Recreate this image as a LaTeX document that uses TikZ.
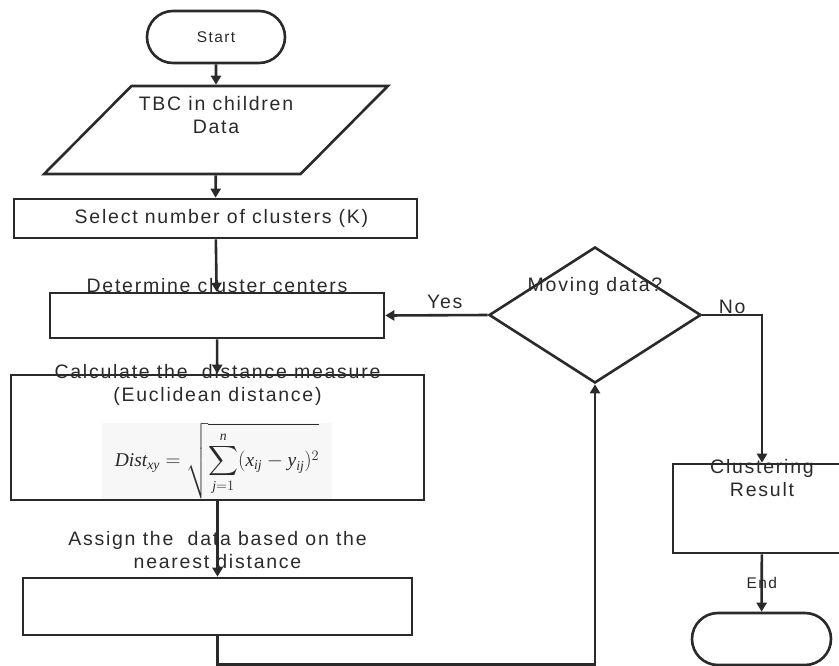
\documentclass[tikz,border=0pt]{standalone}
\usepackage{fontspec}
\setmainfont{Liberation Sans}
\newfontfamily\chartfont[LetterSpace=9]{Liberation Sans}
\newfontfamily\formulafont{Liberation Serif}
\usepackage{amsmath}
\usepackage{tikz}
\usetikzlibrary{shapes, arrows.meta, positioning}
\usetikzlibrary{shapes.geometric, shapes.misc}
\definecolor{ink}{HTML}{2a2a2a}
\newcommand{\fvar}[1]{\text{\formulafont\itshape #1}}

\begin{document}
\begin{tikzpicture}[x=1pt, y=-1pt,
		line width=2.6pt, draw=ink, text=ink,
		font=\chartfont\fontsize{19.5}{23}\selectfont,
		box/.style={draw=ink, rectangle, inner sep=0pt},
		terminal/.style={draw=ink, rounded rectangle, minimum width=138pt, minimum height=52pt, inner sep=0pt},
		flow/.style={draw=ink, -{Triangle[length=9pt, width=10pt]}},
		tag/.style={font=\chartfont\fontsize{15.5}{18}\selectfont}]
	\clip (0,0) rectangle (839,665);
	\useasboundingbox (0,0) rectangle (839,665);
	\node[terminal, tag] (start) at (216,37) {Start};
	\node[box, trapezium, trapezium left angle=63.4, trapezium right angle=116.6,
		trapezium stretches=true, minimum width=344pt, minimum height=88pt,
		label={[align=center, yshift=15pt]center:TBC in children\\Data}] (data) at (216,130) {\phantom{X}};
	\node[box, minimum width=403pt, minimum height=39pt] (select) at (215.5,218.5) {\hspace{12pt}Select number of clusters (K)};
	\node[box, minimum width=334pt, minimum height=45pt,
		label={[anchor=center, yshift=6pt]north:Determine cluster centers}] (centers) at (217,315.5) {};
	\node[box, minimum width=413pt, minimum height=125pt,
		label={[anchor=center, align=center, yshift=-11pt]north:Calculate the\ \ distance measure\\(Euclidean distance)}] (calc) at (217.5,437.5) {};
	\node[fill=black!3, minimum width=230pt, minimum height=63pt, inner sep=0pt] (formula) at (217,461)
		{\fontsize{19.5}{23}\selectfont$\displaystyle \fvar{Dist}_{\fvar{xy}} = \sqrt{\sum_{\fvar{j}=1}^{\fvar{n}}(\fvar{x}_{\fvar{ij}}-\fvar{y}_{\fvar{ij}})^2}$};
	\node[box, minimum width=389pt, minimum height=57pt,
		label={[anchor=center, align=center, yshift=26.5pt]north:Assign the\ \ data based on the\\nearest distance}] (assign) at (217.5,606.5) {};
	\node[box, diamond, minimum width=212pt, minimum height=136pt,
		label={[anchor=center, yshift=-41pt]north:Moving data?}] (decide) at (595,315) {};
	\node[box, minimum width=178pt, minimum height=89pt,
		label={[anchor=center, align=center, yshift=-15pt]north:Clustering\\Result}] (result) at (762,508.5) {};
	\node[terminal, minimum width=139pt] (finish) at (761.5,639) {};

	\draw[flow] (start) -- (data);
	\draw[flow] (data) -- (select);
	\draw[flow] (select) -- (centers);
	\draw[flow] (centers) -- (calc);
	\draw[flow] (calc) -- (assign);
	\draw[flow] (assign.south) -- ++(0,28) -| (decide.south);
	\draw[flow] (decide.west) -- node[pos=0.42, above=2pt] {Yes} (centers.east);
	\draw[flow] (decide.east) -| node[pos=0.25, above=-3pt] {No} (result.north);
	\draw[flow] (result) -- node[tag, midway] {End} (finish);
\end{tikzpicture}
\end{document}
